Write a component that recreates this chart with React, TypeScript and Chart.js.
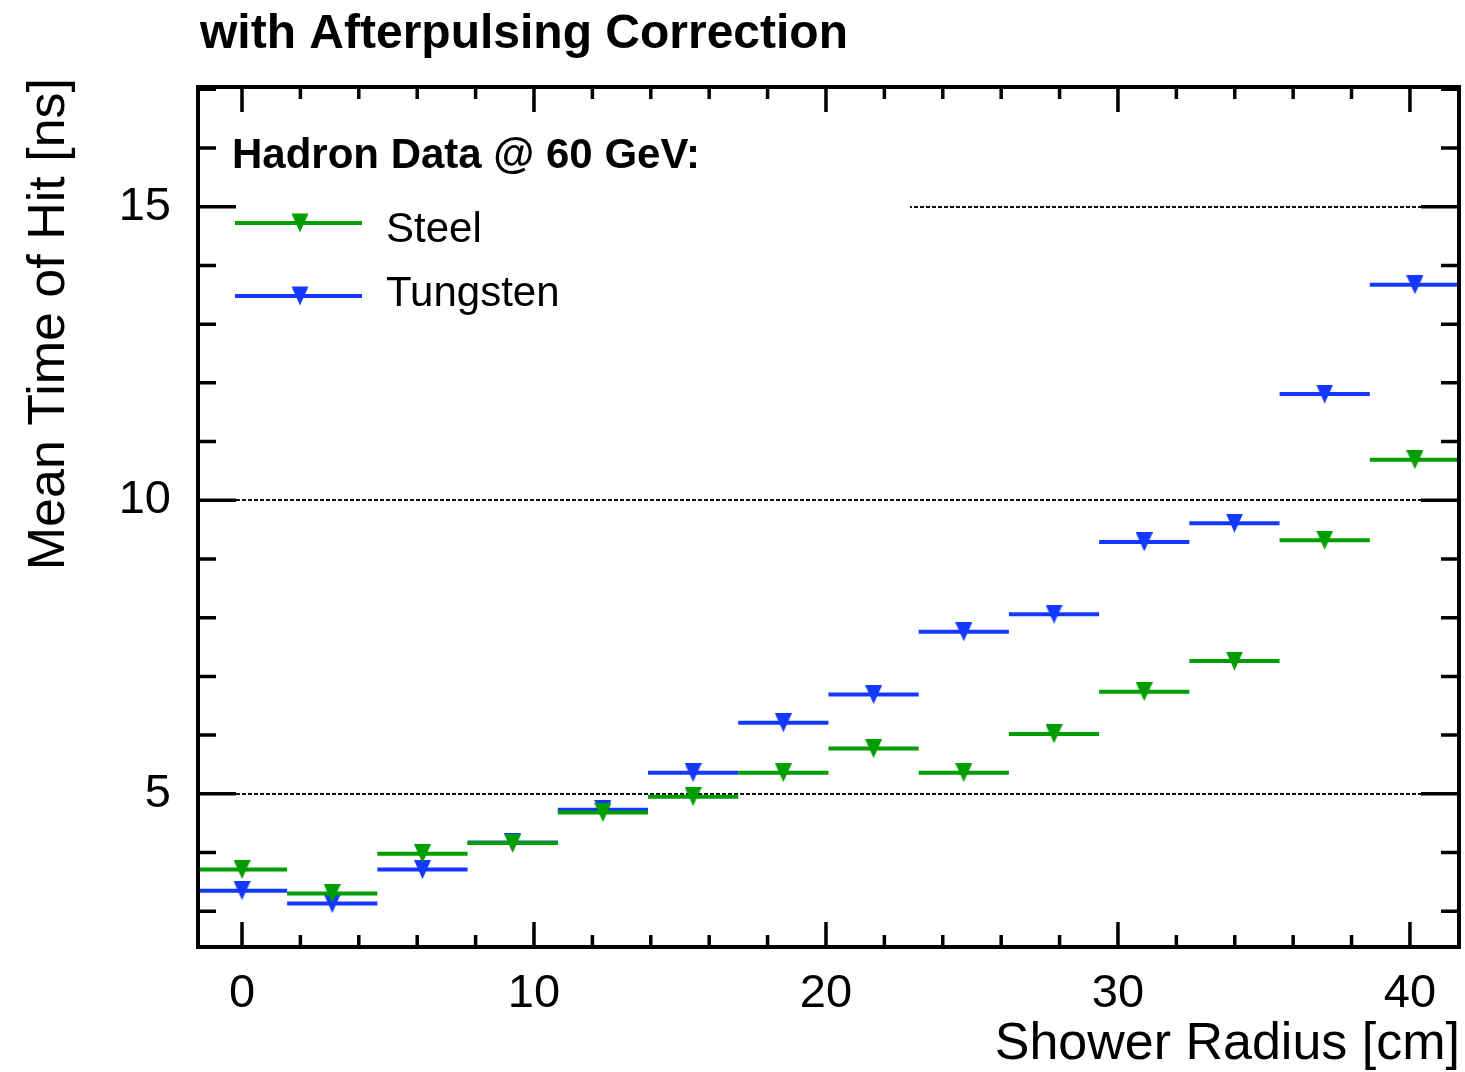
import React, { useEffect, useRef } from 'react';
import { Chart, registerables } from 'chart.js';

Chart.register(...registerables);

// Shower radius bins (centres, cm) and their half width
const BIN_CENTERS = [0, 3.09, 6.18, 9.27, 12.36, 15.45, 18.54, 21.63, 24.72, 27.81, 30.9, 33.99, 37.08, 40.17];
const BIN_HALF_WIDTH = 1.545;

// Mean time of hit per bin [ns]
const STEEL = [3.71, 3.3, 3.98, 4.16, 4.68, 4.95, 5.36, 5.77, 5.36, 6.02, 6.74, 7.26, 9.32, 10.69];
const TUNGSTEN = [3.35, 3.13, 3.71, 4.17, 4.73, 5.36, 6.21, 6.69, 7.76, 8.06, 9.29, 9.61, 11.81, 13.67];

const X_TICKS = [0, 10, 20, 30, 40];
const Y_TICKS = [5, 10, 15];
const X_MINOR_STEP = 2;
const Y_MINOR_STEP = 1;
const X_RANGE = [-1.507, 41.68];
const Y_RANGE = [2.39, 17.04];

const TITLE = 'with Afterpulsing Correction';
const X_TITLE = 'Shower Radius [cm]';
const Y_TITLE = 'Mean Time of Hit [ns]';
const LEGEND_HEADER = 'Hadron Data @ 60 GeV:';
const SERIES_NAMES = ['Steel', 'Tungsten'];
const SERIES_COLORS = ['#009e00', '#1438ff'];

const FONT = '"Liberation Sans", Arial, Helvetica, sans-serif';
const W = 1465;
const H = 1072;

const MARKER_W = 17;
const MARKER_H = 19;

function traceDownTriangle(ctx: CanvasRenderingContext2D, cx: number, cy: number, color: string) {
  ctx.fillStyle = color;
  ctx.beginPath();
  ctx.moveTo(cx - MARKER_W / 2, cy - MARKER_H / 2);
  ctx.lineTo(cx + MARKER_W / 2, cy - MARKER_H / 2);
  ctx.lineTo(cx, cy + MARKER_H / 2);
  ctx.closePath();
  ctx.fill();
}

// Filled downward triangle marker, centred on its bounding box
function makeMarker(color: string): HTMLCanvasElement {
  const c = document.createElement('canvas');
  c.width = MARKER_W;
  c.height = MARKER_H;
  const g = c.getContext('2d') as CanvasRenderingContext2D;
  traceDownTriangle(g, MARKER_W / 2, MARKER_H / 2, color);
  return c;
}

// Horizontal bin-width bars, drawn just before each dataset's markers
const binBarsPlugin = {
  id: 'binBars',
  beforeDatasetDraw(chart: any, args: any) {
    const { ctx, chartArea, scales } = chart;
    const ds = chart.data.datasets[args.index];
    const xs = scales.x;
    const ys = scales.y;
    ctx.save();
    ctx.beginPath();
    ctx.rect(chartArea.left, chartArea.top, chartArea.right - chartArea.left, chartArea.bottom - chartArea.top);
    ctx.clip();
    ctx.strokeStyle = ds.borderColor;
    ctx.lineWidth = 4;
    ds.data.forEach((p: any) => {
      const y = ys.getPixelForValue(p.y);
      ctx.beginPath();
      ctx.moveTo(xs.getPixelForValue(p.x - BIN_HALF_WIDTH), y);
      ctx.lineTo(xs.getPixelForValue(p.x + BIN_HALF_WIDTH), y);
      ctx.stroke();
    });
    ctx.restore();
  },
};

const MAJOR_Y_LEN = 38;
const MINOR_Y_LEN = 18;
const MAJOR_X_LEN = 25;
const MINOR_X_LEN = 12;

// Dotted grid lines at the labelled values
const gridPlugin = {
  id: 'dottedGrid',
  beforeDatasetsDraw(chart: any) {
    const { ctx, chartArea, scales } = chart;
    ctx.save();
    ctx.strokeStyle = '#111';
    ctx.lineWidth = 2;
    ctx.setLineDash([4, 2]);
    Y_TICKS.forEach((v) => {
      const y = Math.round(scales.y.getPixelForValue(v));
      ctx.beginPath();
      ctx.moveTo(chartArea.left + MAJOR_Y_LEN, y);
      ctx.lineTo(chartArea.right - MAJOR_Y_LEN, y);
      ctx.stroke();
    });
    ctx.restore();
  },
};

// Frame with inward tick marks on all four sides, legend and titles
const framePlugin = {
  id: 'frameAndText',
  afterDatasetsDraw(chart: any) {
    const { ctx, chartArea, scales } = chart;
    const { left, right, top, bottom } = chartArea;

    // legend background
    ctx.save();
    ctx.fillStyle = '#ffffff';
    ctx.fillRect(left + MAJOR_Y_LEN, 115, 910 - (left + MAJOR_Y_LEN), 210);
    ctx.restore();

    ctx.save();
    ctx.strokeStyle = '#000';
    ctx.lineWidth = 4;
    ctx.setLineDash([]);
    ctx.strokeRect(left, top, right - left, bottom - top);

    ctx.lineWidth = 3.5;
    for (let v = Math.ceil(X_RANGE[0] / X_MINOR_STEP) * X_MINOR_STEP; v <= X_RANGE[1]; v += X_MINOR_STEP) {
      const major = X_TICKS.includes(v);
      const len = major ? MAJOR_X_LEN : MINOR_X_LEN;
      const x = scales.x.getPixelForValue(v);
      ctx.beginPath();
      ctx.moveTo(x, bottom);
      ctx.lineTo(x, bottom - len);
      ctx.moveTo(x, top);
      ctx.lineTo(x, top + len);
      ctx.stroke();
    }
    for (let v = Math.ceil(Y_RANGE[0] / Y_MINOR_STEP) * Y_MINOR_STEP; v <= Y_RANGE[1]; v += Y_MINOR_STEP) {
      const major = Y_TICKS.includes(v);
      const len = major ? MAJOR_Y_LEN : MINOR_Y_LEN;
      const y = scales.y.getPixelForValue(v);
      ctx.beginPath();
      ctx.moveTo(left, y);
      ctx.lineTo(left + len, y);
      ctx.moveTo(right, y);
      ctx.lineTo(right - len, y);
      ctx.stroke();
    }
    ctx.restore();

    // legend
    ctx.save();
    ctx.fillStyle = '#000';
    ctx.textBaseline = 'alphabetic';
    ctx.textAlign = 'left';
    ctx.font = `bold 42px ${FONT}`;
    ctx.fillText(LEGEND_HEADER, 232, 168);
    const rows = [223, 296];
    const textBase = [242, 306];
    SERIES_NAMES.forEach((name, i) => {
      ctx.strokeStyle = SERIES_COLORS[i];
      ctx.lineWidth = 4;
      ctx.beginPath();
      ctx.moveTo(235, rows[i]);
      ctx.lineTo(362, rows[i]);
      ctx.stroke();
      traceDownTriangle(ctx, 300, rows[i], SERIES_COLORS[i]);
      ctx.fillStyle = '#000';
      ctx.font = `42px ${FONT}`;
      ctx.fillText(name, 386, textBase[i]);
    });
    ctx.restore();
  },
  afterDraw(chart: any) {
    const { ctx, chartArea } = chart;
    ctx.save();
    ctx.fillStyle = '#000';
    ctx.textBaseline = 'alphabetic';
    ctx.font = `bold 48px ${FONT}`;
    ctx.textAlign = 'left';
    ctx.fillText(TITLE, 200, 48);

    ctx.font = `52px ${FONT}`;
    ctx.textAlign = 'right';
    ctx.fillText(X_TITLE, chartArea.right + 1, 1059);

    ctx.translate(64, 78);
    ctx.rotate(-Math.PI / 2);
    ctx.textAlign = 'right';
    ctx.fillText(Y_TITLE, 0, 0);
    ctx.restore();
  },
};

export default function App() {
  const canvasRef = useRef<HTMLCanvasElement | null>(null);

  useEffect(() => {
    document.body.style.margin = '0';
    const canvas = canvasRef.current;
    if (!canvas) return;

    const makeData = (vals: number[]) => vals.map((v, i) => ({ x: BIN_CENTERS[i], y: v }));
    const series = [STEEL, TUNGSTEN];

    const chart = new Chart(canvas, {
      type: 'scatter',
      data: {
        datasets: series.map((vals, i) => ({
          label: SERIES_NAMES[i],
          data: makeData(vals),
          borderColor: SERIES_COLORS[i],
          backgroundColor: SERIES_COLORS[i],
          pointStyle: makeMarker(SERIES_COLORS[i]),
          pointRadius: 10,
          pointBorderWidth: 0,
          showLine: false,
        })),
      },
      options: {
        animation: false,
        responsive: false,
        devicePixelRatio: 1,
        layout: { autoPadding: false, padding: { top: 87, right: 6, left: 0, bottom: 0 } },
        plugins: {
          legend: { display: false },
          tooltip: { enabled: false },
          title: { display: false },
        },
        scales: {
          x: {
            type: 'linear',
            min: X_RANGE[0],
            max: X_RANGE[1],
            grid: { display: false },
            border: { display: false },
            afterBuildTicks: (scale: any) => {
              scale.ticks = X_TICKS.map((v) => ({ value: v }));
            },
            afterFit: (scale: any) => {
              scale.height = 125;
              scale.paddingLeft = 0;
              scale.paddingRight = 0;
            },
            ticks: {
              padding: 11,
              color: '#000',
              maxRotation: 0,
              font: { family: FONT, size: 47 },
              callback: (v: any) => String(v),
            },
          },
          y: {
            type: 'linear',
            min: Y_RANGE[0],
            max: Y_RANGE[1],
            grid: { display: false },
            border: { display: false },
            afterBuildTicks: (scale: any) => {
              scale.ticks = Y_TICKS.map((v) => ({ value: v }));
            },
            afterFit: (scale: any) => {
              scale.width = 198;
              scale.paddingTop = 0;
              scale.paddingBottom = 0;
            },
            ticks: {
              padding: 19,
              color: '#000',
              font: { family: FONT, size: 47 },
              callback: (v: any) => String(v),
            },
          },
        },
      },
      plugins: [gridPlugin, binBarsPlugin, framePlugin],
    } as any);

    return () => chart.destroy();
  }, []);

  return (
    <div style={{ position: 'absolute', left: 0, top: 0, width: W, height: H, background: '#fff' }}>
      <canvas ref={canvasRef} width={W} height={H} style={{ display: 'block', width: W, height: H }} />
    </div>
  );
}
